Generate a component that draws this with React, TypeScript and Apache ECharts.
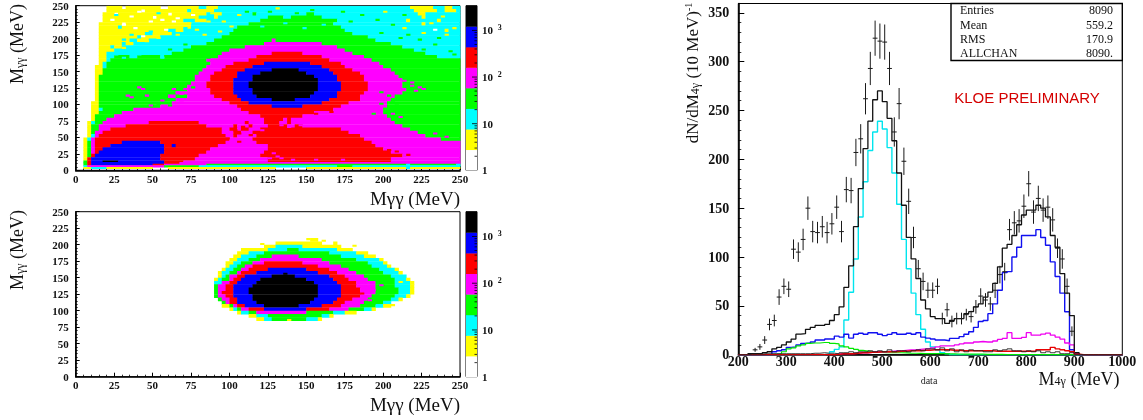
import React, { useEffect, useRef } from "react";
import * as echarts from "echarts";

const levelColors = ["#ffffff", "#ffff00", "#00ffff", "#00ff00", "#ff00ff", "#ff0000", "#0000ff", "#000000"];
const colorBarEdges = [1, 2.76, 7.6, 21, 58, 160, 440, 1220, 3390];
const colorBarMinorTicks = [2, 3, 4, 5, 6, 7, 8, 9, 20, 30, 40, 50, 60, 70, 80, 90, 200, 300, 400, 500, 600, 700, 800, 900, 2000, 3000];
const colorBarMajorTicks = [10, 100, 1000];

// each row: yLow, yHigh, then pairs of (x where the run starts, colour level)
const topRows: number[][] = [
  [245, 250, 0, 0, 19, 1, 30, 0, 32, 1, 55, 0, 60, 1, 80, 2, 85, 1, 92, 2, 218, 1, 232, 2, 240, 1, 245, 2],
  [240, 245, 0, 0, 19, 1, 42, 0, 44, 1, 72, 2, 76, 1, 90, 2, 220, 1, 235, 2, 240, 1, 247, 2],
  [235, 240, 0, 0, 17, 1, 25, 0, 27, 1, 60, 0, 63, 1, 85, 2, 90, 1, 95, 2, 115, 3, 117, 2, 150, 3, 155, 2, 222, 1, 228, 2],
  [230, 235, 0, 0, 17, 1, 50, 0, 52, 1, 80, 2, 90, 1, 92, 2, 125, 3, 135, 2, 140, 3, 160, 2, 225, 1, 228, 2],
  [225, 230, 0, 0, 17, 1, 70, 2, 78, 1, 85, 2, 120, 3, 170, 2, 215, 1, 218, 2, 235, 1, 238, 2],
  [220, 225, 0, 0, 16, 1, 30, 0, 32, 1, 75, 2, 112, 3, 168, 2, 225, 1, 228, 2],
  [215, 220, 0, 0, 16, 1, 28, 2, 30, 1, 75, 2, 105, 3, 172, 2],
  [210, 215, 0, 0, 16, 1, 60, 2, 65, 1, 70, 2, 102, 3, 175, 2, 240, 1, 243, 2],
  [205, 210, 0, 0, 16, 1, 45, 2, 50, 1, 62, 2, 100, 3, 180, 2],
  [200, 205, 0, 0, 16, 1, 40, 2, 42, 1, 55, 2, 95, 3, 190, 2],
  [195, 200, 0, 0, 16, 1, 35, 2, 40, 1, 48, 2, 90, 3, 128, 4, 130, 3, 195, 2],
  [190, 195, 0, 0, 16, 1, 30, 2, 33, 1, 38, 2, 84, 3, 122, 4, 160, 3, 205, 2],
  [185, 190, 0, 0, 16, 1, 22, 2, 26, 1, 30, 2, 75, 3, 110, 4, 170, 3, 212, 2],
  [180, 185, 0, 0, 16, 1, 24, 2, 70, 3, 100, 4, 175, 3, 220, 2],
  [175, 180, 0, 0, 15, 1, 20, 2, 62, 3, 95, 4, 128, 5, 148, 4, 180, 3, 228, 2],
  [170, 175, 0, 0, 15, 1, 20, 2, 25, 3, 35, 2, 40, 3, 55, 2, 58, 3, 92, 4, 118, 5, 160, 4, 187, 3, 235, 2],
  [165, 170, 0, 0, 14, 1, 20, 2, 23, 3, 85, 4, 113, 5, 165, 4, 192, 3],
  [160, 165, 0, 0, 14, 1, 18, 2, 20, 3, 88, 4, 103, 5, 122, 6, 152, 5, 172, 4, 197, 3],
  [155, 160, 0, 0, 13, 1, 18, 2, 20, 3, 86, 4, 98, 5, 115, 6, 159, 5, 176, 4, 200, 3],
  [150, 155, 0, 0, 13, 1, 18, 3, 82, 4, 94, 5, 110, 6, 127, 7, 144, 6, 165, 5, 180, 4, 205, 3],
  [145, 150, 0, 0, 13, 1, 17, 3, 80, 4, 90, 5, 106, 6, 120, 7, 151, 6, 168, 5, 185, 4, 208, 3],
  [140, 145, 0, 0, 13, 1, 16, 3, 78, 4, 88, 5, 104, 6, 116, 7, 155, 6, 170, 5, 187, 4, 210, 3],
  [135, 140, 0, 0, 13, 1, 16, 3, 77, 4, 87, 5, 103, 6, 114, 7, 157, 6, 171, 5, 188, 4, 212, 3],
  [130, 135, 0, 0, 13, 1, 16, 3, 76, 4, 86, 5, 102, 6, 113, 7, 158, 6, 172, 5, 189, 4, 213, 3],
  [125, 130, 0, 0, 13, 1, 16, 3, 73, 4, 86, 5, 102, 6, 113, 7, 158, 6, 172, 5, 190, 4, 213, 3],
  [120, 125, 0, 0, 13, 1, 16, 3, 72, 4, 87, 5, 102, 6, 114, 7, 157, 6, 172, 5, 189, 4, 215, 3],
  [115, 120, 0, 0, 12, 1, 16, 3, 66, 4, 88, 5, 103, 6, 115, 7, 156, 6, 171, 5, 187, 4, 212, 3],
  [110, 115, 0, 0, 12, 1, 16, 3, 60, 4, 65, 3, 72, 4, 91, 5, 104, 6, 118, 7, 153, 6, 170, 5, 186, 4, 208, 3],
  [105, 110, 0, 0, 12, 1, 16, 3, 64, 4, 94, 5, 108, 6, 128, 7, 143, 6, 166, 5, 184, 4, 205, 3],
  [100, 105, 0, 0, 11, 1, 15, 3, 62, 4, 100, 5, 113, 6, 161, 5, 178, 4, 203, 3],
  [95, 100, 0, 0, 11, 1, 15, 3, 55, 4, 104, 5, 127, 6, 147, 5, 172, 4, 202, 3],
  [90, 95, 0, 0, 11, 1, 15, 2, 17, 3, 38, 4, 108, 5, 167, 4, 200, 3],
  [85, 90, 0, 0, 11, 1, 14, 3, 30, 4, 113, 5, 155, 4, 200, 3],
  [80, 85, 0, 0, 10, 1, 13, 3, 26, 4, 120, 5, 147, 4, 202, 3],
  [75, 80, 0, 0, 10, 1, 12, 3, 20, 4, 122, 5, 135, 4, 137, 5, 140, 4, 205, 3],
  [70, 75, 0, 0, 8, 1, 10, 2, 12, 3, 17, 4, 48, 5, 80, 4, 110, 5, 113, 4, 122, 5, 133, 4, 137, 5, 140, 4, 208, 3],
  [65, 70, 0, 0, 8, 1, 10, 3, 15, 4, 33, 5, 86, 4, 102, 5, 105, 4, 112, 5, 115, 4, 124, 5, 137, 4, 143, 5, 148, 4, 213, 3],
  [60, 65, 0, 0, 8, 1, 10, 3, 14, 4, 23, 5, 94, 4, 100, 5, 104, 4, 108, 5, 112, 4, 120, 5, 172, 4, 217, 3],
  [55, 60, 0, 0, 8, 1, 10, 3, 13, 4, 17, 5, 96, 4, 103, 5, 108, 4, 115, 5, 177, 4, 222, 3],
  [50, 55, 0, 0, 7, 1, 10, 2, 12, 4, 15, 5, 98, 4, 102, 5, 106, 4, 118, 5, 184, 4, 228, 3],
  [45, 50, 0, 0, 5, 1, 7, 2, 10, 4, 13, 5, 100, 4, 115, 5, 187, 4, 238, 3],
  [40, 45, 0, 0, 5, 1, 8, 3, 10, 4, 12, 5, 30, 6, 55, 5, 98, 4, 118, 5, 192, 4],
  [35, 40, 0, 0, 5, 1, 7, 3, 10, 4, 13, 5, 23, 6, 57, 5, 62, 6, 64, 5, 92, 4, 124, 5, 196, 4],
  [30, 35, 0, 0, 5, 1, 7, 3, 10, 4, 12, 5, 18, 6, 58, 5, 88, 4, 124, 5, 200, 4],
  [25, 30, 0, 0, 5, 1, 7, 3, 10, 4, 12, 5, 15, 6, 58, 5, 84, 4, 122, 5, 206, 4],
  [20, 25, 0, 0, 5, 1, 7, 3, 9, 5, 13, 6, 56, 5, 80, 4, 120, 5, 212, 4],
  [15, 20, 0, 0, 5, 1, 7, 3, 8, 5, 10, 6, 56, 5, 77, 4, 125, 5, 205, 4],
  [12.5, 15, 0, 0, 5, 3, 8, 5, 10, 6, 18, 7, 28, 6, 57, 5, 70, 4, 125, 5, 205, 4],
  [10, 12.5, 0, 0, 5, 3, 8, 5, 10, 6, 57, 5, 68, 4],
  [7.5, 10, 0, 0, 4, 3, 7, 5, 11, 6, 50, 5, 57, 4, 85, 3, 215, 2, 218, 3, 248, 2],
  [5, 7.5, 0, 0, 4, 2, 8, 4, 57, 3, 80, 2, 170, 3, 180, 2],
  [2.5, 5, 0, 0, 5, 1, 10, 2, 20, 1, 50, 0, 60, 1, 130, 0, 150, 1, 215, 2, 218, 1],
];

// scattered single bins: x, y, colour level
const topSpeckles: number[][] = [
  [25, 235, 2], [40, 240, 0], [55, 227.5, 0], [62.5, 225, 0], [75, 235, 0], [30, 220, 0], [47.5, 210, 2], [35, 205, 2],
  [70, 215, 2], [85, 225, 1], [92.5, 210, 1], [100, 217.5, 1], [87.5, 237.5, 1], [110, 240, 3], [130, 245, 1], [152.5, 242.5, 3],
  [172.5, 240, 3], [185, 235, 3], [195, 228, 3], [205, 220, 3], [212.5, 215, 1], [225, 207.5, 1], [232.5, 212.5, 0], [240, 205, 1],
  [222.5, 198, 3], [232.5, 190, 3], [210, 200, 3], [197.5, 207.5, 3], [165, 232.5, 2], [245, 175, 3], [242.5, 180, 3],
  [30, 185, 1], [45, 195, 1], [60, 182.5, 3], [70, 190, 3], [55, 170, 2], [25, 175, 2], [30, 170, 2], [40, 175, 2],
  [35, 232.5, 0], [47.5, 225, 0], [52.5, 237.5, 2], [65, 230, 0], [22.5, 227.5, 0], [37.5, 215, 0], [57.5, 212.5, 0], [42.5, 202.5, 0],
  [30, 197.5, 2], [52.5, 200, 1], [65, 205, 1], [72.5, 222.5, 1], [78, 212.5, 1], [82.5, 205, 1], [95, 225, 1], [105, 235, 1],
  [120, 217.5, 2], [135, 222.5, 2], [147.5, 215, 2], [160, 220, 2], [178, 225, 3], [125, 240, 3], [142.5, 237.5, 3], [200, 240, 1],
  [212.5, 235, 3], [230, 222.5, 1], [245, 215, 1], [237.5, 232.5, 1], [215, 205, 3], [235, 200, 3], [225, 182.5, 3], [240, 172.5, 2],
  [40, 125, 4], [42.5, 122.5, 4], [45, 112.5, 4], [32.5, 112.5, 4], [35, 110, 4], [62.5, 122.5, 4], [65, 117.5, 4], [67.5, 105, 4],
  [67.5, 115, 4], [55, 105, 4], [52.5, 100, 3], [60, 97.5, 3], [47.5, 97.5, 4], [70, 122.5, 4], [75, 125, 3], [87.5, 177.5, 3], [85, 170, 3],
  [197.5, 117.5, 3], [202.5, 112.5, 3], [205, 105, 3], [197.5, 100, 3], [200, 92.5, 3], [207.5, 97.5, 3], [192.5, 85, 3], [205, 85, 4],
  [212.5, 72.5, 3], [210, 80, 4], [218, 127.5, 4], [222.5, 125, 4], [220, 120, 4], [225, 122.5, 4], [213, 135, 4], [217.5, 132.5, 4],
  [102.5, 60, 5], [105, 55, 5], [112.5, 52.5, 5], [117.5, 45, 5], [105, 42.5, 5], [97.5, 47.5, 5], [107.5, 65, 5], [120, 60, 4],
  [132.5, 68, 4], [137.5, 65, 4], [145, 68, 4], [127.5, 25, 4], [130, 20, 4], [125, 17.5, 4], [132.5, 17.5, 4], [140, 15, 4],
  [155, 15, 4], [172.5, 15, 4], [202.5, 30, 5], [207.5, 27.5, 5], [215, 22.5, 5], [140, 87.5, 5], [155, 85, 5], [165, 87.5, 5],
  [225, 57.5, 3], [232.5, 55, 4], [240, 50, 4],
];

const bottomRows: number[][] = [
  [205, 210, 0, 0, 152, 1, 157, 0],
  [200, 205, 0, 0, 130, 1, 160, 0, 167, 1, 169, 0],
  [195, 200, 0, 0, 122, 1, 130, 2, 148, 1, 172, 0],
  [190, 195, 0, 0, 108, 1, 125, 2, 137, 3, 146, 2, 170, 1, 180, 0],
  [185, 190, 0, 0, 104, 1, 113, 2, 122, 3, 165, 2, 183, 1, 190, 0],
  [180, 185, 0, 0, 102, 1, 108, 2, 117, 3, 128, 4, 146, 3, 172, 2, 188, 1, 196, 0],
  [175, 180, 0, 0, 100, 1, 105, 2, 112, 3, 120, 4, 160, 3, 182, 2, 198, 1, 200, 0],
  [170, 175, 0, 0, 98, 1, 103, 2, 108, 3, 115, 4, 122, 5, 148, 4, 165, 3, 190, 2, 200, 1, 203, 0],
  [165, 170, 0, 0, 97, 1, 100, 2, 105, 3, 111, 4, 116, 5, 158, 4, 172, 3, 193, 2, 202, 1, 206, 0],
  [160, 165, 0, 0, 95, 1, 98, 2, 102, 3, 108, 4, 112, 5, 125, 6, 150, 5, 165, 4, 178, 3, 197, 2, 207, 1, 210, 0],
  [155, 160, 0, 0, 93, 1, 96, 2, 100, 3, 105, 4, 108, 5, 117, 6, 158, 5, 170, 4, 183, 3, 200, 2, 210, 1, 213, 0],
  [150, 155, 0, 0, 92, 1, 94, 2, 98, 3, 101, 4, 105, 5, 110, 6, 128, 7, 142, 6, 165, 5, 175, 4, 187, 3, 205, 2, 214, 1, 216, 0],
  [145, 150, 0, 0, 91, 1, 93, 2, 96, 3, 99, 4, 102, 5, 107, 6, 120, 7, 150, 6, 168, 5, 178, 4, 190, 3, 207, 2, 215, 1, 218, 0],
  [140, 145, 0, 0, 90, 2, 94, 3, 96, 4, 100, 5, 105, 6, 117, 7, 154, 6, 170, 5, 182, 4, 194, 3, 208, 2, 217, 1, 220, 0],
  [135, 140, 0, 0, 90, 3, 93, 4, 98, 5, 103, 6, 114, 7, 157, 6, 172, 5, 183, 4, 195, 3, 208, 2, 217, 1, 220, 0],
  [130, 135, 0, 0, 90, 3, 92, 4, 97, 5, 102, 6, 113, 7, 158, 6, 172, 5, 184, 4, 196, 3, 210, 2, 218, 1, 220, 0],
  [125, 130, 0, 0, 91, 3, 93, 4, 95, 5, 102, 6, 113, 7, 158, 6, 172, 5, 185, 4, 195, 3, 210, 2, 217, 1, 220, 0],
  [120, 125, 0, 0, 91, 3, 93, 4, 97, 5, 102, 6, 114, 7, 157, 6, 172, 5, 184, 4, 193, 3, 207, 2, 215, 1, 218, 0],
  [115, 120, 0, 0, 92, 1, 93, 3, 95, 4, 99, 5, 104, 6, 116, 7, 155, 6, 170, 5, 180, 4, 190, 3, 205, 2, 210, 1, 212, 0],
  [110, 115, 0, 0, 94, 1, 96, 3, 98, 4, 101, 5, 106, 6, 118, 7, 152, 6, 168, 5, 176, 4, 188, 3, 200, 2, 204, 1, 206, 0],
  [105, 110, 0, 0, 96, 1, 99, 2, 101, 3, 103, 4, 106, 5, 110, 6, 122, 7, 146, 6, 160, 5, 173, 4, 186, 3, 196, 2, 200, 1, 204, 0],
  [100, 105, 0, 0, 100, 1, 102, 2, 105, 3, 108, 4, 112, 5, 122, 6, 150, 5, 165, 4, 177, 3, 188, 2, 192, 1, 194, 0],
  [95, 100, 0, 0, 105, 1, 108, 2, 112, 3, 118, 4, 150, 3, 168, 2, 176, 1, 182, 0],
  [90, 95, 0, 0, 112, 1, 118, 2, 125, 3, 160, 2, 165, 1, 168, 0],
  [85, 90, 0, 0, 118, 1, 122, 2, 128, 3, 150, 2, 157, 1, 160, 0],
];

const bottomSpeckles: number[][] = [
  [137.5, 85, 1], [120, 200, 1], [197.5, 137.5, 4], [192.5, 130, 4], [195, 122.5, 3], [190, 115, 4], [185, 125, 5], [200, 130, 3],
  [210, 142.5, 1], [205, 107.5, 1], [192.5, 110, 3], [180, 197.5, 1], [150, 207.5, 1], [160, 205, 1], [135, 155, 7],
];

const firstBinEdge = 200;
const binWidth = 10;
const lastBinEdge = 1000;

const totalHist = [
  0, 0, 1, 1, 1, 2, 3, 6, 7.5, 10,
  13, 16, 21, 21.5, 26, 28, 30, 30, 31, 35,
  41, 49, 69, 91, 131, 170, 211, 239, 261, 270,
  259, 242, 219, 186, 153, 120, 98, 78, 56, 47,
  39, 37, 37, 32, 35, 37, 37, 42, 44, 49,
  52, 59, 64, 73, 90, 109, 113, 122, 133, 143,
  148, 148, 153, 150, 141, 122, 110, 83, 63, 40,
  2, 0, 0, 0, 0, 0, 0, 0, 0, 0,
];
const blueHist = [
  0, 0, 0, 0, 0, 0, 0, 3, 4, 5,
  7.5, 8, 10, 11.5, 12, 13, 15, 15, 16, 16,
  19, 18, 21, 17, 21, 22, 21, 22.5, 22.5, 21,
  19.5, 20.8, 22.5, 21, 21, 22, 21, 22.5, 18, 17,
  16, 15, 15, 14.3, 16.7, 16.7, 18.5, 21, 23.5, 28,
  34, 35, 42, 52, 66, 84, 85, 100, 110, 122,
  122, 122, 128, 120, 112, 95, 80, 63, 44, 5,
  1, 0, 0, 0, 0, 0, 0, 0, 0, 0,
];
const cyanHist = [
  0, 0, 0, 0, 0, 0, 0, 0, 0, 0,
  0, 0, 0, 0, 0, 0, 0, 0, 0.7, 3,
  5.5, 8, 35.5, 64, 98, 141, 177, 209, 228, 239,
  231, 212, 186, 154, 118, 88, 63, 41, 26, 13,
  8, 5, 2, 1, 0, 0, 0, 0, 0, 0,
  0, 0, 0, 0, 0, 0, 0, 0, 0, 0,
  0, 0, 0, 0, 0, 0, 0, 0, 0, 0,
  0, 0, 0, 0, 0, 0, 0, 0, 0, 0,
];
const greenHist = [
  0, 0, 0, 0, 0, 0, 0, 0.5, 1, 3,
  6, 7, 9, 10, 11.5, 12, 12, 12.5, 12.5, 11.5,
  11, 9, 8, 6.5, 5.5, 4.4, 3.7, 3, 2.6, 2.4,
  2, 2, 2, 2, 1.8, 1.6, 1.5, 1.4, 1.2, 1,
  1, 1, 1, 0.8, 0.8, 0.7, 0.6, 0.5, 0.5, 0.5,
  0.5, 0.4, 0.4, 0.3, 0.3, 0.2, 0.2, 0.2, 0.1, 0.1,
  0, 0, 0, 0, 0, 0, 0, 0, 0, 0,
  0, 0, 0, 0, 0, 0, 0, 0, 0, 0,
];
const magentaHist = [
  0, 0, 0, 0, 0, 0, 0, 0, 0, 0,
  0, 0, 0, 0, 0, 0, 0, 0, 0, 0,
  0.5, 1, 1, 1, 1.5, 2, 2, 2.5, 3, 3,
  3, 3.5, 4, 4, 4.5, 5, 5, 5.5, 6, 6,
  7, 8, 9, 9, 9, 10, 11, 12, 12, 13,
  13.5, 13, 13, 14, 15.7, 16.7, 22.5, 16.7, 16.7, 17.7,
  22.5, 20, 20, 21, 22, 20, 18, 16, 12, 10,
  1, 0, 0, 0, 0, 0, 0, 0, 0, 0,
];
const redHist = [
  0, 0, 0, 0, 0, 0, 0, 0, 0, 0,
  0, 0, 0, 0, 0, 0, 0, 0, 0, 0,
  0.3, 1, 1, 1, 1.5, 2, 2, 2.5, 2.5, 3,
  3, 3, 3, 3.5, 3.5, 4, 4, 4, 4.5, 4.5,
  5, 5, 5, 5, 4.5, 4.5, 4, 4, 4, 4,
  4, 4, 4, 3.5, 3.5, 3.5, 3.5, 3.5, 3.5, 3.5,
  3.5, 3.5, 5, 5, 5, 7.5, 6, 5, 4, 3,
  0.5, 0, 0, 0, 0, 0, 0, 0, 0, 0,
];
const darkHist = [
  0, 0, 0.5, 0.5, 0.5, 1, 1, 1, 1, 1,
  1, 1, 1, 1, 1, 1.5, 1.5, 2, 1.5, 1.5,
  1, 2, 2, 3, 2, 3, 3, 4, 3, 4,
  3, 5, 3, 4, 4, 3, 4, 5, 4, 6,
  6, 5, 7, 4, 6, 3, 5, 3, 5, 4,
  4, 3, 3, 5, 4, 5, 6, 4, 4, 3,
  4, 3, 4, 2, 3, 2, 3, 1, 1, 2,
  0.5, 0, 0, 0, 0, 0, 0, 0, 0, 0,
];

const pointX = [
  235, 245, 255, 265, 275, 285, 295, 305, 315, 325, 335, 345, 355, 365, 375, 385, 395, 405, 415, 425,
  435, 445, 455, 465, 475, 485, 495, 505, 515, 525, 535, 545, 555, 565, 575, 585, 595, 605, 615, 625,
  635, 645, 655, 665, 675, 685, 695, 705, 715, 725, 735, 745, 755, 765, 775, 785, 795, 805, 815, 825,
  835, 845, 855, 865, 875, 885, 895,
];
const pointY = [
  5, 8, 15, 31, 35, 59, 70, 67, 108, 105, 118, 150, 126, 125, 131, 125, 134, 151, 126, 169,
  168, 207, 221, 262, 293, 324, 321, 320, 293, 228, 257, 198, 157, 120, 88, 75, 66, 66, 70, 37,
  46, 34, 37, 37, 41, 39, 49, 60, 56, 52, 66, 82, 85, 128, 135, 137, 152, 175, 146, 160,
  148, 151, 138, 109, 98, 70, 24,
];
const pointErr = [
  2, 3, 4, 6, 6, 8, 8, 8, 10, 10, 11, 12, 11, 11, 11, 11, 11, 12, 11, 13,
  13, 14, 15, 16, 17, 18, 18, 18, 17, 15, 16, 14, 13, 11, 9, 9, 8, 8, 8, 6,
  7, 6, 6, 6, 6, 6, 7, 8, 7, 7, 8, 9, 9, 11, 12, 12, 12, 13, 12, 13,
  12, 12, 12, 10, 10, 8, 5,
];

const tickLabels2D = [0, 25, 50, 75, 100, 125, 150, 175, 200, 225, 250];
const statsNames = ["Entries", "Mean", "RMS", "ALLCHAN"];
const statsValues = ["8090", "559.2", "170.9", "8090."];

const SERIF = '"Liberation Serif", "DejaVu Serif", serif';
const SANS = '"Liberation Sans", sans-serif';

const snap = (x: number) => Math.round(x / 2.5) * 2.5;

function runsFrom(rows: number[][], speckles: number[][]) {
  const out: number[][] = [];
  rows.forEach((r) => {
    const [lo, hi] = [r[0], r[1]];
    for (let i = 2; i < r.length; i += 2) {
      const start = snap(r[i]);
      const end = i + 2 < r.length ? snap(r[i + 2]) : 250;
      const level = r[i + 1];
      if (level > 0 && end > start) out.push([start, end, lo, hi, level]);
    }
  });
  speckles.forEach(([x, y, level]) => {
    const sx = snap(x);
    const sy = snap(y);
    out.push([sx, sx + 2.5, sy, sy + 2.5, level]);
  });
  return out;
}

function renderRun(_: any, api: any) {
  const a = api.coord([api.value(0), api.value(3)]);
  const b = api.coord([api.value(1), api.value(2)]);
  return {
    type: "rect",
    shape: { x: a[0], y: a[1], width: b[0] - a[0] + 0.4, height: b[1] - a[1] + 0.4 },
    style: { fill: levelColors[api.value(4)] },
    silent: true,
  };
}

function renderBand(_: any, api: any) {
  const a = api.coord([0, api.value(1)]);
  const b = api.coord([1, api.value(0)]);
  return {
    type: "rect",
    shape: { x: a[0], y: a[1], width: b[0] - a[0], height: b[1] - a[1] + 0.3 },
    style: { fill: levelColors[api.value(2)] },
    silent: true,
  };
}

function renderBarTick(_: any, api: any) {
  const p = api.coord([1, api.value(0)]);
  const len = api.value(1);
  return {
    type: "line",
    shape: { x1: p[0], y1: p[1], x2: p[0] - len, y2: p[1] },
    style: { stroke: "#000", lineWidth: 0.8 },
    silent: true,
  };
}

function renderPoint(_: any, api: any) {
  const x = api.value(0);
  const y = api.value(1);
  const e = api.value(2);
  const top = api.coord([x, y + e]);
  const bot = api.coord([x, y - e]);
  const l = api.coord([x - 5, y]);
  const r = api.coord([x + 5, y]);
  const st = { stroke: "#1a1a1a", lineWidth: 1 };
  return {
    type: "group",
    silent: true,
    children: [
      { type: "line", shape: { x1: top[0], y1: top[1], x2: bot[0], y2: bot[1] }, style: st },
      { type: "line", shape: { x1: l[0], y1: l[1], x2: r[0], y2: r[1] }, style: st },
    ],
  };
}

function heatAxes(i: number) {
  const x: any = {
    gridIndex: i,
    type: "value",
    min: 0,
    max: 250,
    interval: 25,
    axisLine: { show: true, onZero: false, lineStyle: { color: "#000", width: 1.6 } },
    axisTick: { show: true, inside: true, length: 4, lineStyle: { color: "#000", width: 1 } },
    minorTick: { show: true, splitNumber: 5, length: 2, lineStyle: { color: "#000", width: 0.8 } },
    splitLine: { show: false },
    axisLabel: { margin: 3, color: "#111", fontFamily: SERIF, fontWeight: "bold", fontSize: 11, customValues: tickLabels2D, hideOverlap: false },
  };
  const y: any = { ...x };
  y.axisLabel = { ...x.axisLabel, margin: 7 };
  return { x, y };
}

function barAxes(i: number) {
  const x: any = { gridIndex: i, type: "value", min: 0, max: 1, show: false };
  const y: any = {
    gridIndex: i,
    type: "log",
    logBase: 10,
    min: colorBarEdges[0],
    max: colorBarEdges[colorBarEdges.length - 1],
    position: "right",
    axisLine: { show: false },
    axisTick: { show: false },
    splitLine: { show: false },
    minorTick: { show: false },
    axisLabel: {
      margin: 5,
      color: "#111",
      fontFamily: SERIF,
      fontWeight: "bold",
      fontSize: 11,
      hideOverlap: false,
      showMaxLabel: false,
      formatter: (v: number) => {
        const e = Math.log10(v);
        const r = Math.round(e);
        if (Math.abs(e - r) > 1e-6) return "";
        if (r === 0) return "1";
        if (r === 1) return "10";
        return `{b|10} {s|${r}}`;
      },
      rich: {
        b: { fontFamily: SERIF, fontWeight: "bold", fontSize: 11, color: "#111", lineHeight: 14 },
        s: { fontFamily: SERIF, fontWeight: "bold", fontSize: 8, color: "#111", verticalAlign: "top", lineHeight: 10, padding: [0, 0, 0, 2] },
      },
    },
  };
  return { x, y };
}

function stepSeries(name: string, hist: number[], color: string, width: number, z: number) {
  const data = hist.map((v, i) => [firstBinEdge + i * binWidth, v]);
  data.push([lastBinEdge, 0]);
  return {
    type: "line",
    name,
    xAxisIndex: 4,
    yAxisIndex: 4,
    step: "end",
    symbol: "none",
    silent: true,
    z,
    lineStyle: { color, width },
    data,
  };
}

const heatTop = runsFrom(topRows, topSpeckles);
const heatBottom = runsFrom(bottomRows, bottomSpeckles);
const bandData = colorBarEdges.slice(0, -1).map((lo, i) => [lo, colorBarEdges[i + 1], i]);
const barTickData = [
  ...colorBarMinorTicks.map((v) => [v, 2.5]),
  ...colorBarMajorTicks.map((v) => [v, 5]),
];

function axisTitle(x: number, y: number, text: string, rotated: boolean, size = 18, lh = 18) {
  return {
    type: "text",
    x,
    y,
    rotation: rotated ? Math.PI / 2 : 0,
    silent: true,
    z: 20,
    style: {
      text,
      fill: "#111",
      font: `${size}px ${SERIF}`,
      align: "center",
      verticalAlign: "middle",
      rich: {
        sub: { font: `12px ${SERIF}`, fill: "#111", verticalAlign: "bottom", lineHeight: lh },
        sup: { font: `10px ${SERIF}`, fill: "#111", verticalAlign: "top", lineHeight: lh },
        n: { font: `${size}px ${SERIF}`, fill: "#111", lineHeight: lh },
      },
    },
  };
}

export default function App() {
  const ref = useRef<HTMLDivElement>(null);
  useEffect(() => {
    if (!ref.current) return;
    const chart = echarts.init(ref.current, undefined, { renderer: "svg" });
    const a0 = heatAxes(0);
    const a1 = heatAxes(1);
    const b2 = barAxes(2);
    const b3 = barAxes(3);
    const frame = { show: true, borderColor: "#000", borderWidth: 1, backgroundColor: "transparent" };

    const statsText: any[] = [];
    statsNames.forEach((n, i) => {
      const y = [10, 25, 39, 53][i];
      statsText.push({ type: "text", x: 960, y, z: 31, silent: true, style: { text: n, fill: "#111", font: `12px ${SERIF}`, align: "left", verticalAlign: "middle" } });
      statsText.push({ type: "text", x: 1113, y, z: 31, silent: true, style: { text: statsValues[i], fill: "#111", font: `12px ${SERIF}`, align: "right", verticalAlign: "middle" } });
    });

    chart.setOption({
      animation: false,
      backgroundColor: "#fff",
      grid: [
        { left: 75.7, top: 5.7, width: 384.3, height: 164.6, ...frame },
        { left: 75.7, top: 211.7, width: 384.3, height: 165, ...frame },
        { left: 466, top: 5.7, width: 11, height: 164.6, ...frame },
        { left: 466, top: 211.7, width: 11, height: 165, ...frame },
        { left: 738.3, top: 3.5, width: 384, height: 351.2, ...frame },
      ],
      xAxis: [
        a0.x,
        a1.x,
        b2.x,
        b3.x,
        {
          gridIndex: 4,
          type: "value",
          min: 200,
          max: 1000,
          interval: 100,
          axisLine: { show: true, onZero: false, lineStyle: { color: "#000", width: 1.6 } },
          axisTick: { show: false },
          splitLine: { show: false },
          axisLabel: { margin: 0, color: "#111", fontFamily: SERIF, fontWeight: "bold", fontSize: 14, lineHeight: 14, hideOverlap: false, formatter: (v: number) => String(v) },
        },
      ],
      yAxis: [
        a0.y,
        a1.y,
        b2.y,
        b3.y,
        {
          gridIndex: 4,
          type: "value",
          min: 0,
          max: 359.5,
          interval: 50,
          axisLine: { show: true, onZero: false, lineStyle: { color: "#000", width: 1.6 } },
          axisTick: { show: true, inside: true, length: 6, lineStyle: { color: "#000", width: 1 } },
          minorTick: { show: true, splitNumber: 5, length: 3, lineStyle: { color: "#000", width: 0.8 } },
          splitLine: { show: false },
          axisLabel: {
            margin: 9,
            color: "#111",
            fontFamily: SERIF,
            fontWeight: "bold",
            fontSize: 14,
            hideOverlap: false,
            formatter: (v: number) => (v % 50 === 0 ? String(v) : ""),
          },
        },
      ],
      series: [
        { type: "custom", xAxisIndex: 0, yAxisIndex: 0, renderItem: renderRun, encode: { x: [0, 1], y: [2, 3] }, data: heatTop, silent: true, clip: true },
        { type: "custom", xAxisIndex: 1, yAxisIndex: 1, renderItem: renderRun, encode: { x: [0, 1], y: [2, 3] }, data: heatBottom, silent: true, clip: true },
        { type: "custom", xAxisIndex: 2, yAxisIndex: 2, renderItem: renderBand, encode: { y: [0, 1] }, data: bandData, silent: true },
        { type: "custom", xAxisIndex: 3, yAxisIndex: 3, renderItem: renderBand, encode: { y: [0, 1] }, data: bandData, silent: true },
        { type: "custom", xAxisIndex: 2, yAxisIndex: 2, renderItem: renderBarTick, encode: { y: 0 }, data: barTickData, silent: true, z: 5 },
        { type: "custom", xAxisIndex: 3, yAxisIndex: 3, renderItem: renderBarTick, encode: { y: 0 }, data: barTickData, silent: true, z: 5 },
        stepSeries("total", totalHist, "#111111", 1.3, 6),
        stepSeries("cyan", cyanHist, "#00e5ee", 1.4, 5),
        stepSeries("blue", blueHist, "#1010f0", 1.4, 5),
        stepSeries("green", greenHist, "#00e800", 1.2, 5),
        stepSeries("magenta", magentaHist, "#f000f0", 1.3, 5),
        stepSeries("red", redHist, "#e80000", 1.4, 6),
        stepSeries("dark", darkHist, "#222222", 0.9, 7),
        {
          type: "custom",
          xAxisIndex: 4,
          yAxisIndex: 4,
          renderItem: renderPoint,
          encode: { x: 0, y: [1] },
          data: pointX.map((x, i) => [x, pointY[i], pointErr[i]]),
          silent: true,
          clip: true,
          z: 8,
        },
      ],
      graphic: [
        axisTitle(17, 44, "{n|M}{sub|γγ}{n| (MeV)}", true, 18),
        axisTitle(17, 250, "{n|M}{sub|γγ}{n| (MeV)}", true, 18),
        axisTitle(415, 198, "Mγγ (MeV)", false, 19),
        axisTitle(415, 404, "Mγγ (MeV)", false, 19),
        axisTitle(692, 73, "{n|dN/dM}{sub|4γ}{n| (10 MeV)}{sup|-1}", true, 17),
        axisTitle(1079, 379, "{n|M}{sub|4γ}{n| (MeV)}", false, 18, 16),
        { type: "text", x: 929, y: 380, z: 20, silent: true, style: { text: "data", fill: "#222", font: `10px ${SERIF}`, align: "center", verticalAlign: "middle" } },
        { type: "text", x: 1027, y: 97, z: 20, silent: true, style: { text: "KLOE PRELIMINARY", fill: "#d40000", font: `15px ${SANS}`, align: "center", verticalAlign: "middle" } },
        { type: "rect", z: 30, silent: true, shape: { x: 951, y: 3.5, width: 171.3, height: 57 }, style: { fill: "#fff", stroke: "#000", lineWidth: 1.4 } },
        ...statsText,
      ],
    });
    return () => chart.dispose();
  }, []);
  return <div ref={ref} style={{ position: "absolute", left: 0, top: 0, width: 1143, height: 420, filter: "blur(0.35px)" }} />;
}
